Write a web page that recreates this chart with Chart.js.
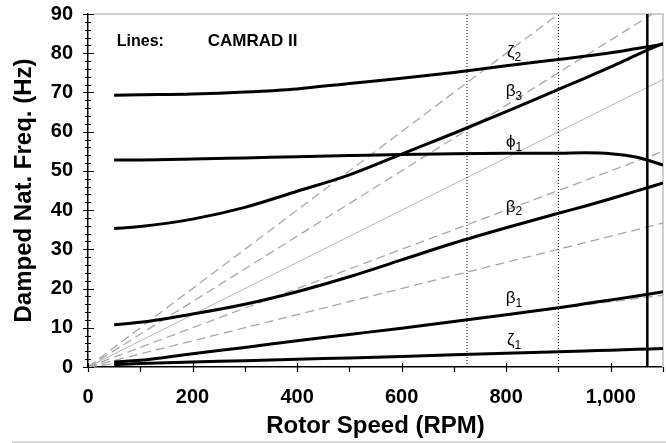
<!DOCTYPE html>
<html>
<head>
<meta charset="utf-8">
<script src="https://cdn.jsdelivr.net/npm/chart.js@4.4.1/dist/chart.umd.min.js"></script>
<style>
    html, body { margin: 0; padding: 0; background: #fff; }
    #wrap { width: 666px; height: 443px; position: relative; }
</style>
</head>
<body>
<div id="wrap"><canvas id="freqChart"></canvas></div>
<script>
// rotor speed (RPM) where the CAMRAD II curves were read
const rotorSpeed = [50, 100, 200, 300, 400, 500, 600, 700, 800, 900, 950, 1000, 1050, 1100];

// damped natural frequencies (Hz)
const zeta1 = [0.6, 0.9, 1.3, 1.6, 2.0, 2.3, 2.7, 3.1, 3.5, 3.9, 4.1, 4.3, 4.5, 4.7];
const beta1 = [1.3, 1.7, 3.4, 5.0, 6.7, 8.3, 9.9, 11.6, 13.3, 15.1, 16.1, 17.1, 18.1, 19.2];
const beta2 = [10.8, 11.4, 13.5, 16.0, 19.2, 23.0, 27.3, 31.6, 35.5, 39.2, 41.0, 42.9, 44.9, 46.9];
const phi1 = [52.8, 52.8, 53.0, 53.3, 53.6, 53.9, 54.2, 54.4, 54.5, 54.5, 54.6, 54.4, 53.5, 51.5];
const beta3 = [35.3, 35.8, 37.7, 40.7, 44.8, 49.0, 54.3, 59.6, 65.1, 70.8, 73.6, 76.5, 79.6, 82.5];
const zeta2 = [69.3, 69.4, 69.6, 70.1, 70.9, 72.3, 73.6, 75.1, 76.8, 78.4, 79.2, 80.1, 81.2, 82.3];

// per-rev lines from the origin
const rayRpm = [0, 1100];
const perRev1 = [0, 18.3];
const perRev2 = [0, 36.7];
const perRev3 = [0, 55.0];
const perRev4 = [0, 73.3];
const perRev5 = [0, 91.7];
const perRev6 = [0, 110.0];

// vertical reference speeds
const dottedRpm = [725, 900];
const solidRpm = [1070];

const xTicks = [0, 200, 400, 600, 800, 1000];
const yTicks = [0, 10, 20, 30, 40, 50, 60, 70, 80, 90];

// mode labels
const modeLetters = ['ζ', 'β', 'ϕ', 'β', 'β', 'ζ'];
const modeSubs = ['2', '3', '1', '2', '1', '1'];
const labelRpm = 815;
const labelHz = [80.2, 70.3, 57.2, 40.8, 17.5, 6.8];

const FONT = '"Liberation Sans", Arial, Helvetica, sans-serif';

function pts(xs, ys) {
    return xs.map((x, i) => ({ x: x, y: ys[i] }));
}

function curve(ys) {
    return {
        data: pts(rotorSpeed, ys),
        borderColor: '#000',
        borderWidth: 3,
        pointRadius: 0,
        showLine: true,
        cubicInterpolationMode: 'monotone'
    };
}

function ray(ys, dashed) {
    return {
        data: pts(rayRpm, ys),
        borderColor: dashed ? '#a8a8a8' : '#b4b4b4',
        borderWidth: dashed ? 1.3 : 1,
        borderDash: dashed ? [9, 5] : [],
        pointRadius: 0,
        showLine: true
    };
}

function vline(x, dotted) {
    return {
        data: [{ x: x, y: 0 }, { x: x, y: 90 }],
        borderColor: '#000',
        borderWidth: dotted ? 1 : 2.5,
        borderDash: dotted ? [1, 2] : [],
        pointRadius: 0,
        showLine: true
    };
}

const datasets = [
    curve(zeta2), curve(beta3), curve(phi1), curve(beta2), curve(beta1), curve(zeta1),
    ...solidRpm.map(x => vline(x, false)),
    ...dottedRpm.map(x => vline(x, true)),
    ray(perRev1, true), ray(perRev2, true), ray(perRev3, true),
    ray(perRev4, false), ray(perRev5, true), ray(perRev6, true)
];

const decorPlugin = {
    id: 'decor',
    beforeDatasetsDraw(chart) {
        const { ctx, chartArea: a } = chart;
        ctx.save();
        ctx.strokeStyle = '#cfcfcf';
        ctx.lineWidth = 2;
        ctx.beginPath();
        ctx.moveTo(a.left + 6, a.top);
        ctx.lineTo(a.right, a.top);
        ctx.lineTo(a.right, a.bottom);
        ctx.stroke();
        ctx.lineWidth = 1.5;
        ctx.beginPath();
        ctx.moveTo(12, 442);
        ctx.lineTo(chart.width, 442);
        ctx.stroke();
        ctx.restore();
    },
    afterDraw(chart) {
        const { ctx, chartArea: a, scales } = chart;
        const xs = scales.x, ys = scales.y;
        ctx.save();
        ctx.strokeStyle = '#000';
        ctx.lineWidth = 1.2;
        ctx.beginPath();
        // y ticks
        for (let v = 0; v <= 90; v += 2) {
            const py = Math.round(ys.getPixelForValue(v)) + 0.5;
            const major = v % 10 === 0;
            ctx.moveTo(a.left - (major ? 5 : 3), py);
            ctx.lineTo(a.left + (major ? 6 : 3), py);
        }
        // x ticks
        for (let v = 0; v <= 1100; v += 100) {
            const px = Math.round(xs.getPixelForValue(v)) + 0.5;
            const major = v % 200 === 0;
            ctx.moveTo(px, a.bottom - (major ? 4 : 0));
            ctx.lineTo(px, a.bottom + 5);
        }
        ctx.stroke();

        // notes
        ctx.fillStyle = '#000';
        ctx.textBaseline = 'middle';
        ctx.textAlign = 'left';
        ctx.font = 'bold 16px ' + FONT;
        ctx.fillText('Lines:', xs.getPixelForValue(55), ys.getPixelForValue(83));
        ctx.font = 'bold 17px ' + FONT;
        ctx.fillText('CAMRAD II', xs.getPixelForValue(229), ys.getPixelForValue(83));

        // mode labels
        modeLetters.forEach((letter, i) => {
            const cx = xs.getPixelForValue(labelRpm);
            const cy = ys.getPixelForValue(labelHz[i]);
            ctx.font = '17px ' + FONT;
            const w1 = ctx.measureText(letter).width;
            ctx.font = '12px ' + FONT;
            const w2 = ctx.measureText(modeSubs[i]).width;
            const x0 = cx - (w1 + w2) / 2;
            ctx.font = '17px ' + FONT;
            ctx.fillText(letter, x0, cy);
            ctx.font = '12px ' + FONT;
            ctx.fillText(modeSubs[i], x0 + w1, cy + 5);
        });
        ctx.restore();
    }
};

const ctx = document.getElementById('freqChart');
new Chart(ctx, {
    type: 'scatter',
    data: { datasets: datasets },
    options: {
        responsive: true,
        maintainAspectRatio: false,
        animation: false,
        layout: { padding: { left: 0, top: 14, right: 3, bottom: 0 } },
        plugins: {
            legend: { display: false },
            tooltip: { enabled: false }
        },
        scales: {
            x: {
                type: 'linear',
                min: 0,
                max: 1100,
                afterFit: s => {
                    s.height = 76;
                    s.paddingLeft = 0;
                    s.paddingRight = 0;
                },
                afterBuildTicks: s => { s.ticks = xTicks.map(v => ({ value: v })); },
                grid: { display: false, drawTicks: false },
                border: { display: true, color: '#000', width: 1.5 },
                ticks: {
                    padding: 18,
                    color: '#000',
                    font: { family: FONT, size: 20, weight: 'bold' },
                    maxRotation: 0,
                    callback: v => v.toLocaleString('en-US')
                },
                title: {
                    display: true,
                    text: 'Rotor Speed (RPM)',
                    color: '#000',
                    font: { family: FONT, size: 24, weight: 'bold' },
                    padding: { top: 2, bottom: 2 }
                }
            },
            y: {
                min: 0,
                max: 90,
                afterFit: s => {
                    s.width = 88;
                    s.paddingTop = 0;
                    s.paddingBottom = 0;
                },
                afterBuildTicks: s => { s.ticks = yTicks.map(v => ({ value: v })); },
                grid: { display: false, drawTicks: false },
                border: { display: true, color: '#000', width: 1.5 },
                ticks: {
                    padding: 15,
                    color: '#000',
                    font: { family: FONT, size: 20, weight: 'bold' }
                },
                title: {
                    display: true,
                    text: 'Damped Nat. Freq. (Hz)',
                    color: '#000',
                    font: { family: FONT, size: 24, weight: 'bold' },
                    padding: { top: 10, bottom: 8 }
                }
            }
        }
    },
    plugins: [decorPlugin]
});
</script>
</body>
</html>
